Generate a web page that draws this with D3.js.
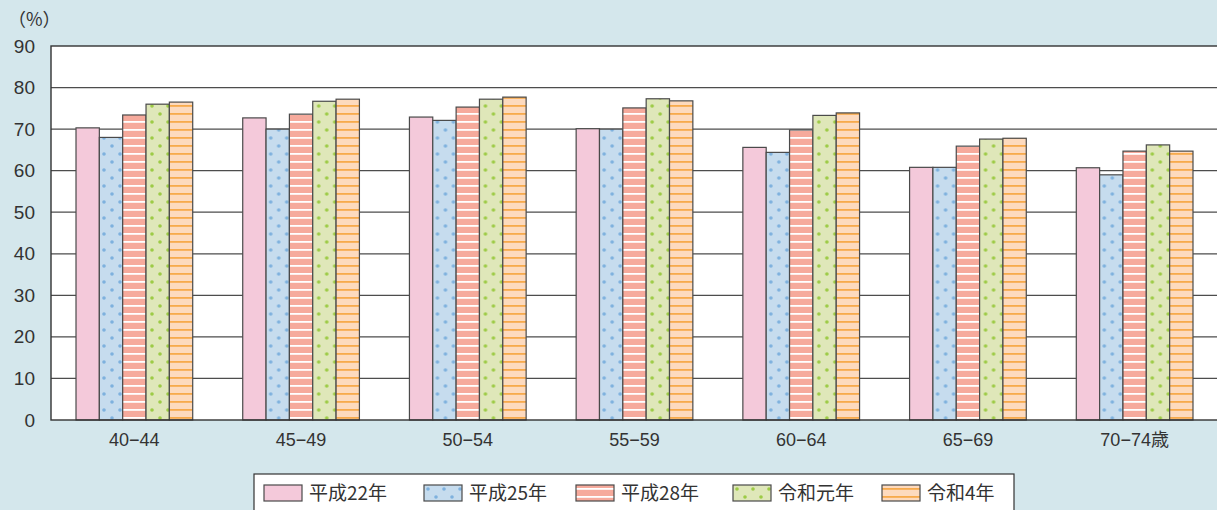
<!DOCTYPE html>
<html>
<head>
<meta charset="utf-8">
<script src="https://cdn.jsdelivr.net/npm/d3@7"></script>
<style>
  html, body { margin: 0; padding: 0; background: #d4e7ec; }
  svg { display: block; font-family: "Noto Sans CJK JP", "Noto Sans", sans-serif; }
</style>
</head>
<body>
<div id="chart"></div>
<script>
// data
const ageGroups = ["40-44", "45-49", "50-54", "55-59", "60-64", "65-69", "70-74歳"];
const seriesNames = ["平成22年", "平成25年", "平成28年", "令和元年", "令和4年"];
const h22 = [70.3, 72.7, 72.9, 70.1, 65.6, 60.8, 60.7];
const h25 = [68.0, 70.0, 72.1, 70.0, 64.4, 60.8, 59.0];
const h28 = [73.4, 73.6, 75.3, 75.1, 69.8, 65.9, 64.7];
const r1 = [76.0, 76.7, 77.2, 77.3, 73.3, 67.6, 66.2];
const r4 = [76.5, 77.2, 77.7, 76.8, 73.9, 67.8, 64.7];
const yTicks = [0, 10, 20, 30, 40, 50, 60, 70, 80, 90];

const seriesValues = [h22, h25, h28, r1, r4];

const W = 1217, H = 510;
const margin = { top: 46, right: -1, bottom: 90, left: 51 };
const width = W - margin.left - margin.right;
const height = H - margin.top - margin.bottom;

const svg = d3.select("#chart").append("svg")
    .attr("width", W)
    .attr("height", H);

// patterns
const defs = svg.append("defs");

function dotPattern(id, bg, dot) {
    const p = defs.append("pattern")
        .attr("id", id)
        .attr("patternUnits", "userSpaceOnUse")
        .attr("width", 16).attr("height", 16);
    p.append("rect").attr("width", 16).attr("height", 16).attr("fill", bg);
    p.append("circle").attr("cx", 4).attr("cy", 4).attr("r", 1.8).attr("fill", dot);
    p.append("circle").attr("cx", 12).attr("cy", 12).attr("r", 1.8).attr("fill", dot);
}

function linePattern(id, bg, line, thick) {
    const p = defs.append("pattern")
        .attr("id", id)
        .attr("patternUnits", "userSpaceOnUse")
        .attr("width", 8).attr("height", 8);
    p.append("rect").attr("width", 8).attr("height", 8).attr("fill", bg);
    p.append("rect").attr("y", 3).attr("width", 8).attr("height", thick).attr("fill", line);
}

dotPattern("pBlue", "#c6dcee", "#7eb1de");
linePattern("pRed", "#f6aa9c", "#ffffff", 1.8);
dotPattern("pGreen", "#dfe7b9", "#9dcb45");
linePattern("pOrange", "#fddabe", "#f7aa4c", 1.8);

const fills = ["#f4c9da", "url(#pBlue)", "url(#pRed)", "url(#pGreen)", "url(#pOrange)"];

const g = svg.append("g")
    .attr("transform", `translate(${margin.left},${margin.top})`);

// scales
const x0 = d3.scaleBand()
    .domain(ageGroups)
    .range([0, width])
    .paddingInner(0.3)
    .paddingOuter(0.15);

const x1 = d3.scaleBand()
    .domain(d3.range(seriesNames.length))
    .range([0, x0.bandwidth()])
    .padding(0);

const y = d3.scaleLinear()
    .domain([0, 90])
    .range([height, 0]);

// plot background
g.append("rect")
    .attr("width", width)
    .attr("height", height)
    .attr("fill", "#ffffff");

// gridlines
g.selectAll(".grid")
    .data(yTicks.filter(d => d > 0 && d < 90))
    .join("line")
    .attr("class", "grid")
    .attr("x1", 0).attr("x2", width)
    .attr("y1", d => y(d)).attr("y2", d => y(d))
    .attr("stroke", "#4d4d4d")
    .attr("stroke-width", 1.2);

// bars
const groups = g.selectAll(".group")
    .data(ageGroups)
    .join("g")
    .attr("class", "group")
    .attr("transform", d => `translate(${x0(d)},0)`);

groups.selectAll("rect")
    .data((d, i) => seriesValues.map((vals, s) => ({ s: s, v: vals[i] })))
    .join("rect")
    .attr("x", d => x1(d.s))
    .attr("y", d => y(d.v))
    .attr("width", x1.bandwidth())
    .attr("height", d => height - y(d.v))
    .attr("fill", d => fills[d.s])
    .attr("stroke", "#4a4a4a")
    .attr("stroke-width", 1.2);

// plot frame
g.append("rect")
    .attr("width", width)
    .attr("height", height)
    .attr("fill", "none")
    .attr("stroke", "#333")
    .attr("stroke-width", 1.4);

// y axis labels
const yAxis = g.append("g")
    .call(d3.axisLeft(y).tickValues(yTicks).tickSize(0).tickPadding(16));
yAxis.select(".domain").remove();
yAxis.selectAll("text")
    .attr("font-size", 19)
    .attr("fill", "#333")
    .attr("font-family", "'Liberation Sans', Arial, sans-serif");

// x axis labels
const xAxis = g.append("g")
    .attr("transform", `translate(0,${height})`)
    .call(d3.axisBottom(x0).tickSize(0).tickPadding(13));
xAxis.select(".domain").remove();
xAxis.selectAll("text")
    .attr("font-size", 18)
    .attr("fill", "#333")
    .attr("font-family", "'Liberation Sans', 'Noto Sans CJK JP', sans-serif")
    .text(d => d.replace("-", "−"));

// unit label
svg.append("text")
    .attr("x", 8)
    .attr("y", 26)
    .attr("font-size", 18)
    .attr("fill", "#333")
    .text("（%）");

// legend
const legend = svg.append("g")
    .attr("transform", "translate(254,474)");

legend.append("rect")
    .attr("width", 760)
    .attr("height", 40)
    .attr("fill", "#ffffff")
    .attr("stroke", "#333")
    .attr("stroke-width", 1.2);

const legendX = [10, 170, 322, 479, 628];

const items = legend.selectAll(".item")
    .data(seriesNames)
    .join("g")
    .attr("class", "item")
    .attr("transform", (d, i) => `translate(${legendX[i]},11)`);

items.append("rect")
    .attr("width", 38)
    .attr("height", 16)
    .attr("fill", (d, i) => fills[i])
    .attr("stroke", "#4a4a4a")
    .attr("stroke-width", 1.2);

items.append("text")
    .attr("x", 45)
    .attr("y", 15)
    .attr("font-size", 19)
    .attr("fill", "#333")
    .text(d => d);
</script>
</body>
</html>
